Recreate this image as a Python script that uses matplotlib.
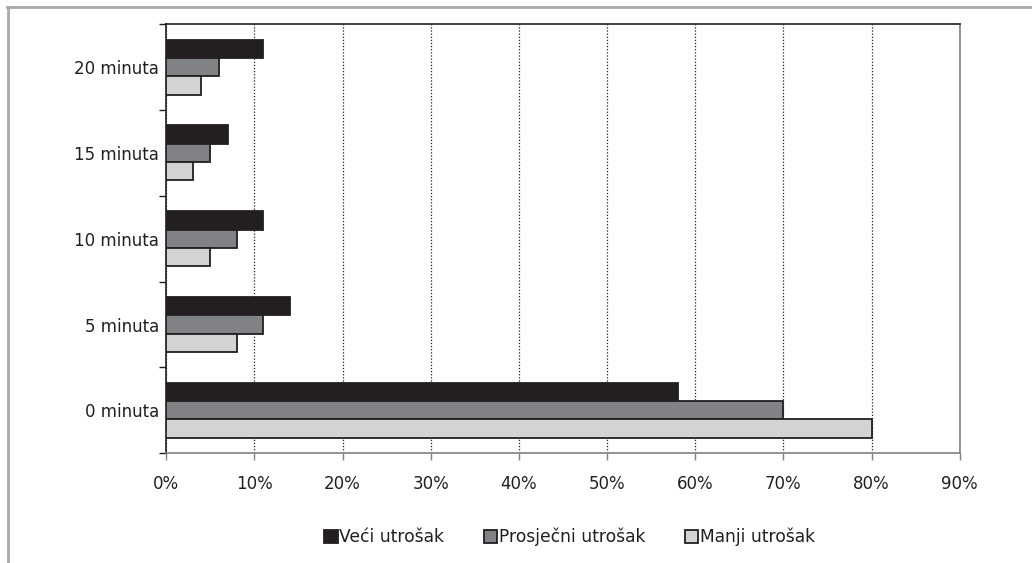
import matplotlib
matplotlib.use("Agg")
import matplotlib.pyplot as plt
from matplotlib.lines import Line2D
from matplotlib.ticker import FixedLocator, PercentFormatter
import numpy as np

plt.rcParams['font.family'] = ['DejaVu Sans']

categories = ['0 minuta', '5 minuta', '10 minuta', '15 minuta', '20 minuta']
veci = [58, 14, 11, 7, 11]
prosjecni = [70, 11, 8, 5, 6]
manji = [80, 8, 5, 3, 4]
series_names = ['Veći utrošak', 'Prosječni utrošak', 'Manji utrošak']
colors = ['#231f20', '#808285', '#d1d3d4']

fig = plt.figure(figsize=(10.32, 5.63), dpi=100)
ax = fig.add_axes([0.161, 0.195, 0.769, 0.762])

y = np.arange(len(categories))
h = 0.213
edge = '#231f20'
# black on top, light at bottom
for i, (vals, name, c) in enumerate(zip([veci, prosjecni, manji], series_names, colors)):
    ax.barh(y + h - i * h, vals, height=h, color=c, edgecolor=edge,
            linewidth=1.3, label=name, zorder=3)

ax.set_xlim(0, 90)
ax.set_ylim(-0.5, len(categories) - 0.5)
ax.set_xticks(np.arange(0, 91, 10))
ax.xaxis.set_major_formatter(PercentFormatter(decimals=0))
ax.set_yticks(y)
ax.set_yticklabels(categories)
ax.yaxis.set_minor_locator(FixedLocator(np.arange(-0.5, len(categories), 1)))
ax.tick_params(axis='y', which='major', length=0, pad=5, labelsize=12, colors='#231f20')
ax.tick_params(axis='y', which='minor', length=5, width=1, color='#231f20')
ax.tick_params(axis='x', length=5, width=1, color='#808080', labelsize=12,
               labelcolor='#231f20', pad=11)

ax.grid(axis='x', linestyle=(0, (1, 1.5)), color='#231f20', linewidth=0.9, zorder=0)
for s in ['left', 'top']:
    ax.spines[s].set_color('#231f20')
    ax.spines[s].set_linewidth(1.2)
for s in ['right', 'bottom']:
    ax.spines[s].set_color('#808080')
    ax.spines[s].set_linewidth(1.2)

leg = fig.legend(loc='center', bbox_to_anchor=(0.552, 0.046), ncol=3, frameon=False,
                 fontsize=12.3, handlelength=0.8, handleheight=0.8,
                 handletextpad=0.1, columnspacing=2.3)
for t in leg.get_texts():
    t.set_color('#231f20')

# outer gray frame
fig.add_artist(Line2D([0.007, 1.0], [0.9875, 0.9875], color='#a7a9ac', linewidth=2,
                      transform=fig.transFigure))
fig.add_artist(Line2D([0.0075, 0.0075], [0.0, 0.9875], color='#a7a9ac', linewidth=2,
                      transform=fig.transFigure))

fig.savefig('out.png', dpi=100)
